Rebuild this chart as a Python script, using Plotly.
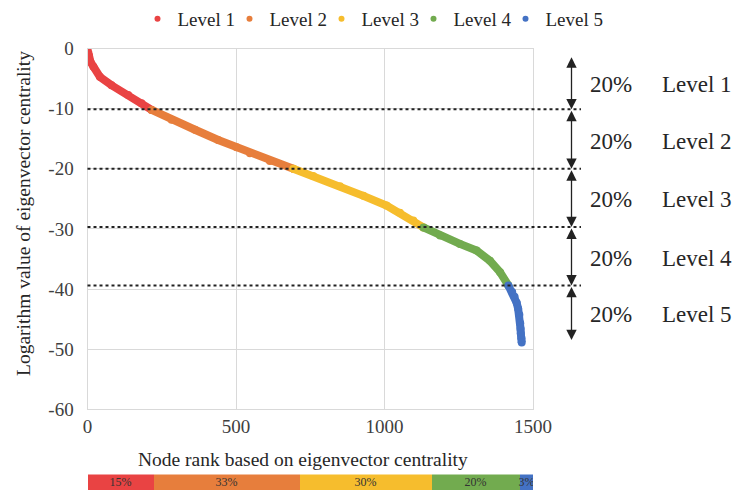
import plotly.graph_objects as go

# Eigenvector centrality (log value) against node rank, split into five levels
level_names = ["Level 1", "Level 2", "Level 3", "Level 4", "Level 5"]
level_colors = ["#E94343", "#E77E3C", "#F6BD2D", "#72AB4F", "#4472C4"]

level1_rank = [2, 5, 10, 20, 42, 81, 137, 182, 216]
level1_value = [-0.5, -1.2, -2.2, -3.0, -4.7, -6.1, -7.7, -9.1, -10.2]

level2_rank = [216, 283, 362, 440, 502, 547, 614, 693]
level2_value = [-10.2, -11.85, -13.5, -15.2, -16.4, -17.4, -18.7, -20.0]

level3_rank = [693, 760, 850, 929, 1007, 1052, 1097, 1131]
level3_value = [-20.0, -21.2, -22.9, -24.5, -26.1, -27.3, -28.6, -29.75]

level4_rank = [1131, 1187, 1254, 1310, 1355, 1389, 1417]
level4_value = [-29.75, -31.1, -32.5, -33.6, -35.3, -37.2, -39.4]

level5_rank = [1417, 1430, 1438, 1445, 1450, 1454, 1457, 1458, 1459, 1461, 1462]
level5_value = [-39.4, -40.5, -41.3, -42.3, -43.3, -44.3, -45.7, -46.6, -47.4, -48.2, -48.9]

# Value thresholds between levels (dotted lines) and extent of the 20% bands
level_thresholds = [-10.1, -20.0, -29.7, -39.4]
band_bounds = [-1.2, -10.1, -20.0, -29.7, -39.4, -48.5]
band_share = ["20%", "20%", "20%", "20%", "20%"]

# Share of node ranks falling in each level (bottom strip)
rank_share_pct = [15, 33, 30, 20, 3]

x_tick_vals = [0, 500, 1000, 1500]
y_tick_vals = [0, -10, -20, -30, -40, -50, -60]

FONT = "Liberation Serif"
GRID = "#d9d9d9"
TICK_COLOR = "#404040"
TEXT_COLOR = "#262626"

W, H = 736, 493
plot_left, plot_right = 87.5, 533.0
plot_top, plot_bottom = 45.0, 408.5
x_dom = [plot_left / W, plot_right / W]
y_dom = [1 - plot_bottom / H, 1 - plot_top / H]
strip_dom = [1 - 490.0 / H, 1 - 474.3 / H]


def paper_x(px):
    return px / W


def paper_y(py):
    return 1 - py / H


fig = go.Figure()

series = [
    (level1_rank, level1_value),
    (level2_rank, level2_value),
    (level3_rank, level3_value),
    (level4_rank, level4_value),
    (level5_rank, level5_value),
]

for (xs, ys), color in zip(series, level_colors):
    fig.add_trace(go.Scatter(
        x=xs, y=ys, mode="lines+markers",
        line=dict(color=color, width=8),
        marker=dict(color=color, size=8),
        showlegend=False, hoverinfo="skip",
        xaxis="x", yaxis="y",
    ))

# legend entries (dot symbols only)
for name, color in zip(level_names, level_colors):
    fig.add_trace(go.Scatter(
        x=[None], y=[None], mode="markers", name=name,
        marker=dict(color=color, size=6),
        xaxis="x", yaxis="y",
    ))
# blank trailing entry so the last label keeps its full width
fig.add_trace(go.Scatter(
    x=[None], y=[None], mode="markers", name=" ",
    marker=dict(color="rgba(0,0,0,0)", size=1),
    xaxis="x", yaxis="y",
))

# stacked strip with the rank share of each level
for pct, color in zip(rank_share_pct, level_colors):
    fig.add_trace(go.Bar(
        x=[pct], y=[0], orientation="h", width=1,
        marker=dict(color=color, line=dict(width=0)),
        text=[f"{pct}%"], textposition="inside", insidetextanchor="middle",
        textangle=0, constraintext="none",
        textfont=dict(family=FONT, size=12, color="#333333"),
        showlegend=False, hoverinfo="skip",
        xaxis="x2", yaxis="y2",
    ))

shapes = []
for t in level_thresholds:
    shapes.append(dict(
        type="line", xref="paper", yref="y",
        x0=paper_x(plot_left), x1=paper_x(581), y0=t, y1=t,
        line=dict(color="#222222", width=2, dash="dot"),
    ))

annotations = []
arrow_x = paper_x(571.5)
pct_x = paper_x(611)
lvl_x = paper_x(660)
for i in range(5):
    top, bottom = band_bounds[i], band_bounds[i + 1]
    annotations.append(dict(
        xref="paper", yref="y", x=arrow_x, y=bottom,
        axref="pixel", ayref="y", ax=0, ay=top,
        text="", showarrow=True, arrowside="end+start",
        arrowhead=2, arrowsize=1.6, arrowwidth=1.3, arrowcolor="#222222",
        standoff=0, startstandoff=0,
    ))
    mid = (top + bottom) / 2
    annotations.append(dict(
        xref="paper", yref="y", x=pct_x, y=mid, yshift=-2,
        text=band_share[i], showarrow=False, xanchor="center", yanchor="middle",
        font=dict(family=FONT, size=23, color=TEXT_COLOR),
    ))
    annotations.append(dict(
        xref="paper", yref="y", x=lvl_x, y=mid, yshift=-2,
        text=level_names[i], showarrow=False, xanchor="left", yanchor="middle",
        font=dict(family=FONT, size=23, color=TEXT_COLOR),
    ))

# axis titles
annotations.append(dict(
    xref="paper", yref="paper", x=paper_x(302.5), y=paper_y(459),
    text="Node rank based on eigenvector centrality", showarrow=False,
    xanchor="center", yanchor="middle",
    font=dict(family=FONT, size=19.5, color=TEXT_COLOR),
))
annotations.append(dict(
    xref="paper", yref="paper", x=paper_x(24), y=paper_y(211.7),
    text="Logarithm value of eigenvector centrality", showarrow=False,
    textangle=-90, xanchor="center", yanchor="middle",
    font=dict(family=FONT, size=19.5, color=TEXT_COLOR),
))

axis_common = dict(
    showgrid=True, gridcolor=GRID, gridwidth=1,
    showline=True, mirror=True, linecolor=GRID, linewidth=1,
    zeroline=False, ticks="",
    tickfont=dict(family=FONT, size=19, color=TICK_COLOR),
    automargin=False, fixedrange=True,
)

fig.update_layout(
    width=W, height=H,
    margin=dict(l=0, r=0, t=0, b=0),
    paper_bgcolor="white", plot_bgcolor="white",
    barmode="stack", bargap=0,
    font=dict(family=FONT, color=TEXT_COLOR),
    xaxis=dict(domain=x_dom, range=[0, 1500], tickvals=x_tick_vals,
               ticktext=[str(v) for v in x_tick_vals], anchor="y", **axis_common),
    yaxis=dict(domain=y_dom, range=[-60, 0], tickvals=y_tick_vals,
               ticktext=[str(v) for v in y_tick_vals], anchor="x",
               ticklabelstandoff=9, **axis_common),
    xaxis2=dict(domain=x_dom, range=[0, sum(rank_share_pct)], anchor="y2",
                visible=False, fixedrange=True),
    yaxis2=dict(domain=strip_dom, range=[-0.5, 0.5], anchor="x2",
                visible=False, fixedrange=True),
    legend=dict(
        orientation="h", x=paper_x(137.5), y=paper_y(15), xanchor="left", yanchor="middle",
        font=dict(family=FONT, size=19, color=TEXT_COLOR),
        entrywidth=47, traceorder="normal", bgcolor="rgba(0,0,0,0)",
    ),
    shapes=shapes,
    annotations=annotations,
    showlegend=True,
)

fig.write_html("out.html")
